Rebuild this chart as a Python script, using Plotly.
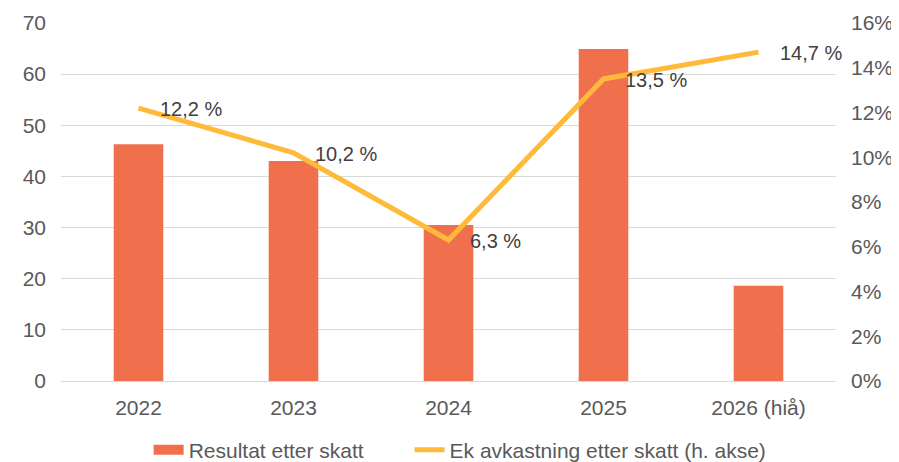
import plotly.graph_objects as go

aar = ["2022", "2023", "2024", "2025", "2026 (hiå)"]
resultat = [46.3, 43.0, 30.5, 64.9, 18.6]
ek_avkastning = [12.2, 10.2, 6.3, 13.5, 14.7]
ek_tekst = ["12,2 %", "10,2 %", "6,3 %", "13,5 %", "14,7 %"]

bar_farge = "#F0704D"
linje_farge = "#FFBA3A"

fig = go.Figure()

fig.add_trace(go.Bar(
    x=aar, y=resultat,
    name="Resultat etter skatt",
    marker=dict(color=bar_farge, line=dict(width=0)),
    width=0.32,
    showlegend=False,
))

# legend-only entry so the bar key is a wide block as in the original
# (trailing no-break spaces give the gap before the next legend item)
fig.add_trace(go.Scatter(
    x=[aar[0]], y=[None], mode="lines",
    name="Resultat etter skatt" + "\u00a0" * 7,
    line=dict(color=bar_farge, width=11),
))

fig.add_trace(go.Scatter(
    x=aar, y=ek_avkastning,
    name="Ek avkastning etter skatt (h. akse)",
    mode="lines",
    line=dict(color=linje_farge, width=5),
    yaxis="y2",
))

# labels next to the line points (category index, since "2022" etc. would be read as numbers)
for i, (y, t) in enumerate(zip(ek_avkastning, ek_tekst)):
    fig.add_annotation(x=i, y=y, xref="x", yref="y2", text=t, showarrow=False,
                       xanchor="left", yanchor="middle", xshift=19, yshift=-1,
                       font=dict(size=20, color="#404040"))

# page body has an 8px margin, so the figure is a little smaller than the window
fig.update_layout(
    width=891, height=454,
    margin=dict(l=53, r=63, t=15, b=81, autoexpand=False),
    paper_bgcolor="white",
    plot_bgcolor="white",
    font=dict(family="Liberation Sans, Arial, sans-serif", size=21, color="#595959"),
    xaxis=dict(type="category", range=[-0.5, 4.5], showgrid=False, showline=False, ticks="",
               ticklabelstandoff=12),
    yaxis=dict(range=[0, 70], dtick=10, showgrid=True, gridcolor="#D9D9D9", gridwidth=1,
               zeroline=True, zerolinecolor="#D9D9D9", zerolinewidth=1,
               ticks="", ticklabelstandoff=14),
    yaxis2=dict(range=[0, 16], dtick=2, overlaying="y", side="right", showgrid=False,
                zeroline=False, ticksuffix="%", ticks="", ticklabelstandoff=14),
    legend=dict(orientation="h", x=0.515, xanchor="center", y=-0.193, yanchor="middle",
                font=dict(size=21, color="#595959"), traceorder="normal"),
    showlegend=True,
)

fig.write_html("out.html")
